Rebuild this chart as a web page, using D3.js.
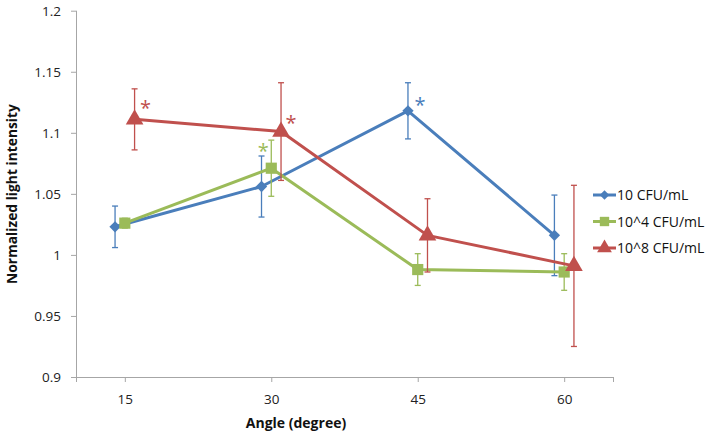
<!DOCTYPE html>
<html><head><meta charset="utf-8">
<script src="https://cdn.jsdelivr.net/npm/d3@7"></script>
<style>body{margin:0;background:#fff;} text{font-family:"Open Sans","Noto Sans",sans-serif;}</style>
</head><body>
<svg id="c" width="712" height="435"></svg>
<script>
const angles = [15, 30, 45, 60];
const seriesNames = ["10 CFU/mL", "10^4 CFU/mL", "10^8 CFU/mL"];
const seriesColors = ["#4A7EBB", "#9BBB59", "#C0504D"];
const xShift = [-1, 0, 1];
const blueValues = [1.023, 1.056, 1.118, 1.016];
const blueErrors = [0.017, 0.025, 0.023, 0.033];
const greenValues = [1.026, 1.071, 0.988, 0.986];
const greenErrors = [0.004, 0.023, 0.013, 0.015];
const redValues = [1.111, 1.101, 1.016, 0.991];
const redErrors = [0.025, 0.040, 0.030, 0.066];
const yTicks = [0.9, 0.95, 1, 1.05, 1.1, 1.15, 1.2];
const xTickValues = [10, 15, 30, 45, 60, 65];
// significance marks: [series index, point index]
const stars = [[2, 0], [2, 1], [1, 1], [0, 2]];
const starOffsets = [[11, -13], [10, -11], [-8, -19], [12, -8]];

const values = [blueValues, greenValues, redValues];
const errors = [blueErrors, greenErrors, redErrors];
const markers = [d3.symbolSquare, d3.symbolSquare, d3.symbolTriangle];
const markerRot = [45, 0, 0];
const markerSizes = [64, 125, 135];

const svg = d3.select("#c");
const x = d3.scaleLinear().domain([10, 65]).range([76, 613]);
const y = d3.scaleLinear().domain([0.9, 1.2]).range([377, 10.7]);

// axes
const gy = svg.append("g").attr("transform", "translate(76,0)")
  .call(d3.axisLeft(y).tickValues(yTicks).tickSize(5).tickPadding(10)
  .tickFormat(d => d3.format("")(+d.toFixed(2))));
const gx = svg.append("g").attr("transform", "translate(0,377)")
  .call(d3.axisBottom(x).tickValues(xTickValues).tickSize(5).tickPadding(12)
  .tickFormat(d => angles.includes(d) ? d : ""));
[gx, gy].forEach(g => {
  g.select(".domain").attr("stroke", "#A6A6A6").attr("stroke-width", 1);
  g.selectAll(".tick line").attr("stroke", "#A6A6A6");
  g.selectAll(".tick text").attr("fill", "#222").attr("font-size", 13.5);
});
gx.select(".domain").attr("d", "M76.5,0.5H613.5");
gy.select(".domain").attr("d", "M0.5,377H0.5V10.7");

svg.append("text").attr("x", 296).attr("y", 428).attr("text-anchor", "middle")
  .attr("font-size", 14).attr("font-weight", "bold").attr("fill", "#111").text("Angle (degree)");
svg.append("text").attr("transform", "translate(17,194) rotate(-90)").attr("text-anchor", "middle")
  .attr("font-size", 13.8).attr("font-weight", "bold").attr("fill", "#111").text("Normalized light intensity");

const line = d3.line().x(d => x(d[0])).y(d => y(d[1]));

values.forEach((vals, s) => {
  const pts = angles.map((a, i) => [a + xShift[s], vals[i], errors[s][i]]);
  const g = svg.append("g");
  // error bars
  pts.forEach(p => {
    const cx = x(p[0]);
    g.append("line").attr("x1", cx).attr("x2", cx).attr("y1", y(p[1] - p[2])).attr("y2", y(p[1] + p[2]))
      .attr("stroke", seriesColors[s]).attr("stroke-width", 1.3);
    [p[1] - p[2], p[1] + p[2]].forEach(v => {
      g.append("line").attr("x1", cx - 3).attr("x2", cx + 3).attr("y1", y(v)).attr("y2", y(v))
        .attr("stroke", seriesColors[s]).attr("stroke-width", 1.3);
    });
  });
  g.append("path").attr("d", line(pts)).attr("fill", "none")
    .attr("stroke", seriesColors[s]).attr("stroke-width", 3).attr("stroke-linejoin", "round");
  pts.forEach(p => {
    g.append("path").attr("d", d3.symbol().type(markers[s]).size(markerSizes[s])())
      .attr("transform", `translate(${x(p[0])},${y(p[1])}) rotate(${markerRot[s]})`).attr("fill", seriesColors[s]);
  });
});

stars.forEach(([s, i], k) => {
  svg.append("text").attr("x", x(angles[i] + xShift[s]) + starOffsets[k][0])
    .attr("y", y(values[s][i]) + starOffsets[k][1] + 9)
    .attr("text-anchor", "middle").attr("font-size", 20).attr("fill", seriesColors[s]).text("*");
});

// legend
const leg = svg.append("g");
seriesNames.forEach((n, s) => {
  const ly = 195 + s * 26.5;
  leg.append("line").attr("x1", 593).attr("x2", 616).attr("y1", ly).attr("y2", ly)
    .attr("stroke", seriesColors[s]).attr("stroke-width", 3);
  leg.append("path").attr("d", d3.symbol().type(markers[s]).size(markerSizes[s] * 0.7)())
    .attr("transform", `translate(604.5,${ly}) rotate(${markerRot[s]})`).attr("fill", seriesColors[s]);
  leg.append("text").attr("x", 617).attr("y", ly + 5).attr("font-size", 14).attr("fill", "#111").text(n);
});
</script>
</body></html>
